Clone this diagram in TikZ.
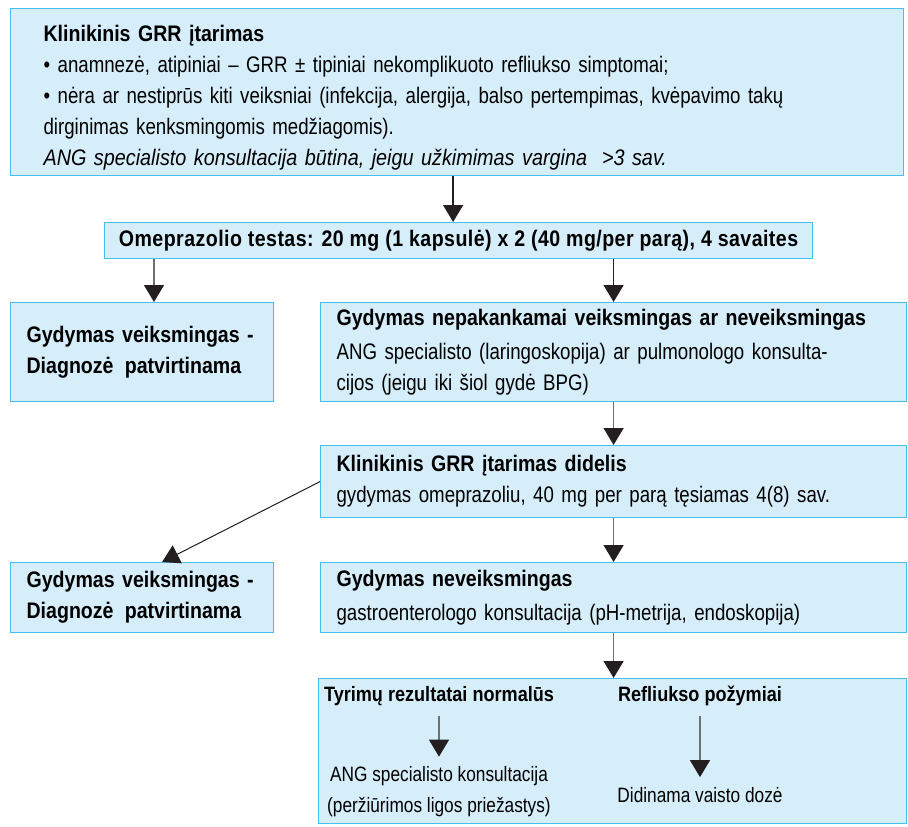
\documentclass[tikz,border=0pt]{standalone}
\usepackage{fontspec}
\setmainfont{Liberation Sans}[FakeStretch=0.83,
  BoldFeatures={FakeStretch=0.87}, ItalicFeatures={FakeStretch=0.88}]
\usetikzlibrary{arrows.meta}
\definecolor{boxfill}{HTML}{D6EDFA}
\definecolor{boxline}{HTML}{45BFEF}
\definecolor{arrline}{HTML}{707070}
\definecolor{arrhead}{HTML}{231F20}
\begin{document}
\begin{tikzpicture}[x=1pt,y=-1pt,
  box/.style={draw=boxline, fill=boxfill, line width=1.2pt, anchor=north west,
    inner ysep=0pt, inner xsep=16pt, align=left, font=\fontsize{22.5}{31}\selectfont},
  txt/.style={inner sep=0pt, align=center, font=\fontsize{20.8}{31}\selectfont},
  arr/.style={draw=arrline, line width=1.5pt, -{Triangle[width=20pt,length=17pt,color=arrhead]}}]
\useasboundingbox (0,0) rectangle (908,827);
\node[box, minimum width=893, minimum height=167, text width=827, inner xsep=33] (susp) at (10,8)
  {\rule{0pt}{28pt}\textbf{Klinikinis GRR įtarimas}\\
   • anamnezė, atipiniai – GRR ± tipiniai nekomplikuoto refliukso simptomai;\\
   \makebox[827pt][s]{• nėra ar nestiprūs kiti veiksniai (infekcija, alergija, balso pertempimas, kvėpavimo takų}\\
   dirginimas kenksmingomis medžiagomis).\\
   \textit{ANG specialisto konsultacija būtina, jeigu užkimimas vargina~~>3 sav.}};
\node[box, minimum width=708, minimum height=36, inner xsep=13] (ome) at (104,222)
  {\bfseries\addfontfeature{LetterSpace=2.0}Omeprazolio testas: 20 mg (1 kapsulė) x 2 (40 mg/per parą), 4 savaites};
\node[box, minimum width=263, minimum height=99, text width=231] (ok1) at (10,302)
  {\textbf{Gydymas veiksmingas -}\\ \textbf{Diagnozė~\,patvirtinama}};
\node[box, minimum width=586, minimum height=99, text width=554] (weak) at (320,302)
  {\textbf{Gydymas nepakankamai veiksmingas ar neveiksmingas}\\[3pt]
   ANG specialisto (laringoskopija) ar pulmonologo konsulta-\\
   cijos (jeigu iki šiol gydė BPG)};
\node[box, minimum width=586, minimum height=72, text width=554] (high) at (320,445)
  {\textbf{Klinikinis GRR įtarimas didelis}\\
   gydymas omeprazoliu, 40 mg per parą tęsiamas 4(8) sav.};
\node[box, minimum width=263, minimum height=70, text width=231] (ok2) at (10,562)
  {\textbf{Gydymas veiksmingas -}\\ \textbf{Diagnozė~\,patvirtinama}};
\node[box, minimum width=586, minimum height=70, text width=554] (fail) at (320,562)
  {\textbf{Gydymas neveiksmingas}\\[3pt]
   gastroenterologo konsultacija (pH-metrija, endoskopija)};
\node[box, minimum width=588, minimum height=145] (res) at (318,678) {};
\node[txt, font=\fontsize{20.8}{31}\selectfont\bfseries] (norm) at (439,696) {Tyrimų rezultatai normalūs};
\node[txt] (ang) at (439,792) {ANG specialisto konsultacija\\(peržiūrimos ligos priežastys)};
\node[txt, font=\fontsize{20.8}{31}\selectfont\bfseries] (refl) at (700,696) {Refliukso požymiai};
\node[txt] (dose) at (700,795) {Didinama vaisto dozė};
% connectors
\coordinate (omeL) at ([xshift=50]ome.south west);
\draw[arr, draw=arrhead] ([xshift=-4]susp.south) -- ([xshift=-4]susp.south |- ome.north);
\draw[arr] (omeL) -- (omeL |- ok1.north);
\draw[arr, draw=arrhead] (ome.south -| weak.north) -- (weak.north);
\draw[arr] (weak) -- (high);
\draw[arr, draw=arrhead, line width=1pt] (high.west) -- ([xshift=20]ok2.north);
\draw[arr] (high) -- (fail);
\draw[arr] (fail.south) -- (fail.south |- res.north);
\draw[arr, shorten <=10pt, shorten >=10pt] (norm) -- (ang);
\draw[arr, shorten <=10pt, shorten >=10pt] (refl) -- (dose);
\end{tikzpicture}
\end{document}
